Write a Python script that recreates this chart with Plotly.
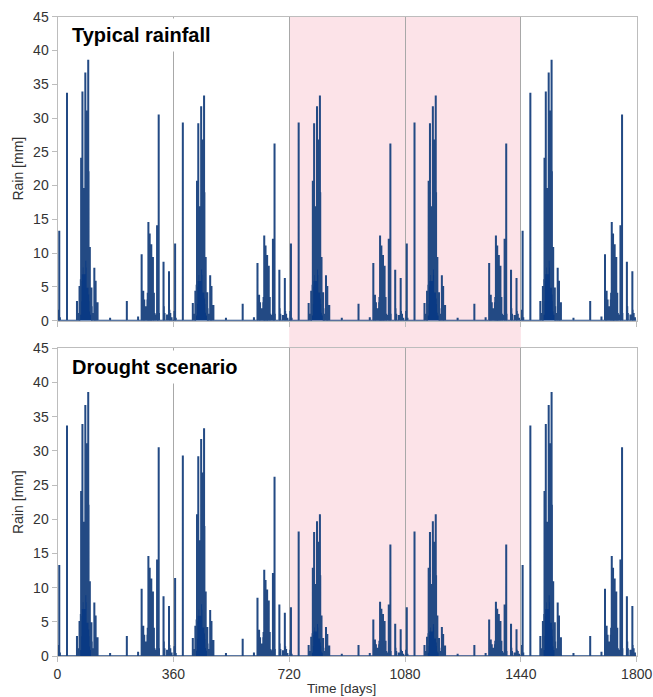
import numpy as np
import plotly.graph_objects as go

# ---- data -----------------------------------------------------------------
YEAR_LEN = 360          # model year length in days
N_YEARS = 5

# day-of-year of every rain event (same calendar in every year)
event_day = [
    3, 5, 7, 29, 60, 66, 68, 69, 70, 71, 72, 73, 74, 75, 76, 77, 78, 79, 80,
    81, 82, 83, 84, 85, 86, 87, 88, 89, 90, 91, 92, 93, 94, 95, 96, 97, 98,
    99, 100, 101, 102, 103, 104, 105, 106, 108, 110, 114, 115, 118, 119, 121,
    124, 163, 215, 250, 261, 262, 264, 266, 267, 269, 271, 274, 277, 279, 280,
    282, 283, 284, 286, 287, 288, 289, 291, 292, 293, 296, 297, 299, 301, 303,
    309, 310, 311, 314, 315, 329, 330, 332, 340, 346, 347, 350, 354,
]

# rain amounts [mm] for a wet year (years 1 and 5)
rain_wet = [
    1.5, 13.2, 0.4, 33.6, 2.8, 1.0, 5.0, 2.0, 1.0, 3.0, 6.0, 24.0, 10.0, 7.0,
    14.0, 33.8, 18.0, 12.0, 8.0, 19.5, 15.0, 7.0, 10.0, 16.0, 36.6, 20.0, 13.0,
    9.0, 31.0, 12.0, 8.0, 5.0, 14.0, 38.5, 22.0, 9.0, 6.0, 4.0, 10.8, 3.0, 1.5,
    2.0, 1.0, 4.8, 2.0, 1.0, 0.8, 7.7, 1.0, 5.8, 1.0, 0.8, 2.6, 0.3, 2.8, 0.5,
    9.7, 1.5, 2.0, 4.3, 1.5, 3.0, 1.0, 2.0, 1.0, 3.0, 4.0, 14.5, 5.0, 3.0,
    12.8, 6.0, 4.0, 2.0, 11.2, 3.0, 1.5, 9.3, 2.0, 4.0, 1.0, 0.8, 14.0, 3.0,
    1.0, 30.4, 1.0, 8.6, 2.0, 1.0, 0.8, 7.2, 1.5, 1.0, 0.4,
]

# rain amounts [mm] for an ordinary year (years 2-4, typical scenario)
rain_typ = [
    1.3, 11.3, 0.3, 29.2, 2.5, 0.9, 4.3, 1.7, 0.9, 2.6, 5.2, 20.6, 8.6, 6.0,
    12.0, 29.1, 15.5, 10.3, 6.9, 16.8, 12.9, 6.0, 8.6, 13.8, 31.6, 17.2, 11.2,
    7.7, 26.7, 10.3, 6.9, 4.3, 12.0, 33.2, 18.9, 7.7, 5.2, 3.4, 9.3, 2.6, 1.3,
    1.7, 0.9, 4.1, 1.7, 0.9, 0.7, 6.6, 0.9, 5.0, 0.9, 0.7, 2.2, 0.3, 2.4, 0.4,
    8.4, 1.3, 1.7, 3.7, 1.3, 2.6, 0.9, 1.7, 0.9, 2.6, 3.4, 12.5, 4.3, 2.6,
    11.0, 5.2, 3.4, 1.7, 9.6, 2.6, 1.3, 8.0, 1.7, 3.4, 0.9, 0.7, 12.0, 2.6,
    0.9, 26.1, 0.9, 7.4, 1.7, 0.9, 0.7, 6.2, 1.3, 0.9, 0.3,
]

# rain amounts [mm] for a drought year (years 3-4, drought scenario)
rain_dry = [
    0.8, 7.0, 0.2, 18.1, 1.5, 0.6, 2.7, 1.1, 0.6, 1.6, 3.2, 12.8, 5.3, 3.7,
    7.4, 18.0, 9.6, 6.4, 4.3, 10.4, 8.0, 3.7, 5.3, 8.6, 19.6, 10.7, 6.9, 4.8,
    16.6, 6.4, 4.3, 2.7, 7.4, 20.6, 11.7, 4.8, 3.2, 2.1, 5.8, 1.6, 0.8, 1.1,
    0.6, 2.5, 1.1, 0.6, 0.4, 4.1, 0.6, 3.1, 0.6, 0.4, 1.4, 0.2, 1.5, 0.3, 5.2,
    0.8, 1.1, 2.3, 0.8, 1.6, 0.6, 1.1, 0.6, 1.6, 2.1, 7.8, 2.7, 1.6, 6.8, 3.2,
    2.1, 1.1, 6.0, 1.6, 0.8, 5.0, 1.1, 2.1, 0.6, 0.4, 7.4, 1.6, 0.6, 16.2,
    0.6, 4.6, 1.1, 0.6, 0.4, 3.8, 0.8, 0.6, 0.2,
]

years_typical = ["wet", "typ", "typ", "typ", "wet"]
years_drought = ["wet", "typ", "dry", "dry", "wet"]

x_ticks = [0, 360, 720, 1080, 1440, 1800]
y_ticks = [0, 5, 10, 15, 20, 25, 30, 35, 40, 45]
drought_window = [720, 1440]
panel_titles = ["Typical rainfall", "Drought scenario"]


def daily_series(year_kinds):
    amounts = {"wet": rain_wet, "typ": rain_typ, "dry": rain_dry}
    series = np.zeros(YEAR_LEN * N_YEARS)
    for year, kind in enumerate(year_kinds):
        for day, mm in zip(event_day, amounts[kind]):
            series[year * YEAR_LEN + day] = mm
    return series


days = np.arange(YEAR_LEN * N_YEARS)
rain_typical = daily_series(years_typical)
rain_drought = daily_series(years_drought)

# ---- styling --------------------------------------------------------------
W, H = 653, 697
FILL = "#0a3a84"
LINE = "#234a84"
PINK = "#fce3e8"
GRID = "#a8a8a8"
FRAME = "#bdbdbd"
FONT = "Liberation Sans"

x_dom = [57.5 / W, 636.7 / W]
top_dom = [1 - 320.7 / H, 1 - 16.7 / H]
bot_dom = [1 - 656.0 / H, 1 - 348.3 / H]

fig = go.Figure()
for series, xa, ya in [(rain_typical, "x", "y"), (rain_drought, "x2", "y2")]:
    fig.add_trace(go.Scatter(
        x=days, y=series, xaxis=xa, yaxis=ya, mode="lines",
        line=dict(color=LINE, width=1.7, shape="hv"),
        fill="tozeroy", fillcolor=FILL, hoverinfo="skip", showlegend=False,
    ))

common_x = dict(
    range=[0, 1800], tickvals=x_ticks, showgrid=True, gridcolor=GRID,
    gridwidth=1, zeroline=False, showline=True, linecolor=FRAME, mirror=True,
    ticks="outside", ticklen=5, tickcolor=FRAME, automargin=False,
    tickfont=dict(family=FONT, size=14, color="#333333"),
)
common_y = dict(
    range=[0, 45], tickvals=y_ticks, showgrid=False, zeroline=False,
    showline=True, linecolor=FRAME, mirror=True, ticks="outside", ticklen=5,
    tickcolor=FRAME, automargin=False,
    tickfont=dict(family=FONT, size=14, color="#333333"),
    title=dict(text="Rain [mm]", font=dict(family=FONT, size=14, color="#333333"),
               standoff=6),
)

fig.update_layout(
    width=W, height=H, margin=dict(l=0, r=0, t=0, b=0),
    paper_bgcolor="white", plot_bgcolor="rgba(0,0,0,0)",
    xaxis=dict(domain=x_dom, anchor="y", showticklabels=False, **common_x),
    yaxis=dict(domain=top_dom, anchor="x", **common_y),
    xaxis2=dict(domain=x_dom, anchor="y2", showticklabels=True, **common_x),
    yaxis2=dict(domain=bot_dom, anchor="x2", **common_y),
    shapes=[dict(
        type="rect", xref="x", yref="paper",
        x0=drought_window[0], x1=drought_window[1],
        y0=bot_dom[0], y1=top_dom[1],
        fillcolor=PINK, line=dict(width=0), layer="below",
    )],
    annotations=[
        dict(text=f"<b>{panel_titles[0]}</b>", xref="paper", yref="paper",
             x=66 / W, y=1 - 35 / H, xanchor="left", yanchor="middle",
             showarrow=False, bgcolor="white", borderpad=5,
             font=dict(family=FONT, size=20, color="black")),
        dict(text=f"<b>{panel_titles[1]}</b>", xref="paper", yref="paper",
             x=66 / W, y=1 - 367 / H, xanchor="left", yanchor="middle",
             showarrow=False, bgcolor="white", borderpad=5,
             font=dict(family=FONT, size=20, color="black")),
        dict(text="Time [days]", xref="paper", yref="paper",
             x=342 / W, y=1 - 680 / H, xanchor="center", yanchor="top",
             showarrow=False, borderpad=0,
             font=dict(family=FONT, size=13.5, color="#333333")),
    ],
)

fig.write_html("out.html")
